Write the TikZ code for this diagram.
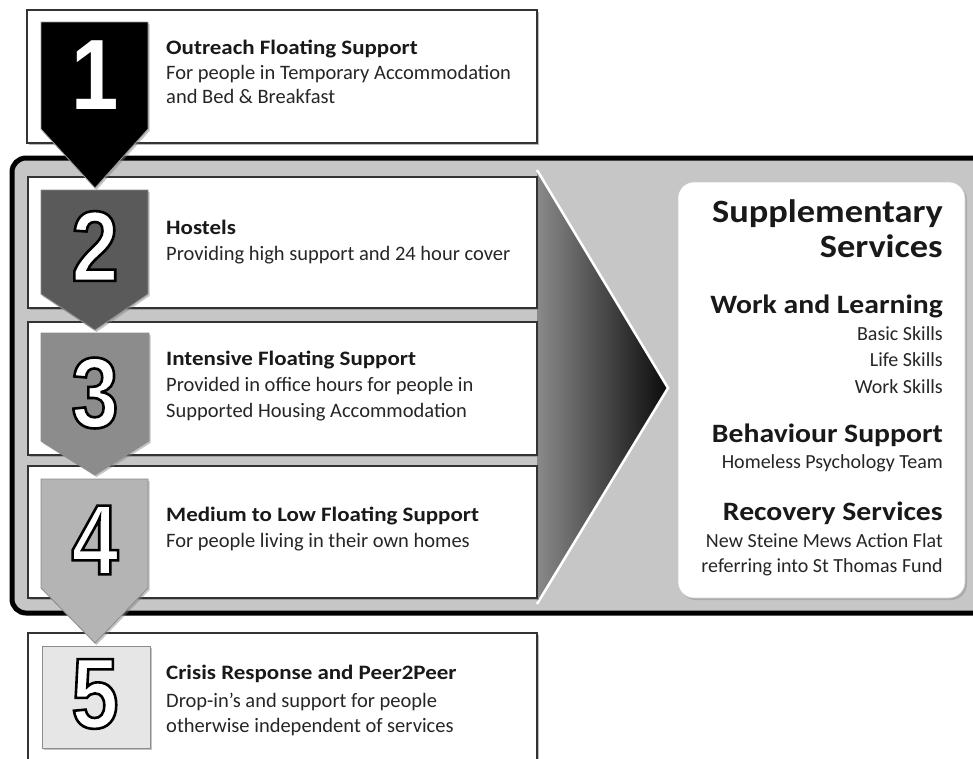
\documentclass[tikz,border=0pt]{standalone}
\usepackage{fontspec}
\setmainfont{Carlito}
\newfontfamily\headfont{Carlito}[FakeStretch=1.12]
\newfontfamily\digitfont{Liberation Sans}[FakeStretch=0.85]
\usetikzlibrary{shadows}
\definecolor{framegray}{HTML}{C6C6C6}
\definecolor{bordergray}{HTML}{333333}
\definecolor{badgetwo}{HTML}{5A5A5A}
\definecolor{badgethree}{HTML}{8C8C8C}
\definecolor{badgefour}{HTML}{B4B4B4}
\definecolor{badgefive}{HTML}{E6E6E6}
\definecolor{chevl}{HTML}{8A8A8A}
\definecolor{chevr}{HTML}{0A0A0A}
\newcommand{\olnum}[1]{\special{pdf:literal direct 2 Tr 2.6 w 0 G}#1\special{pdf:literal direct 0 Tr}}
\tikzset{
  sbox/.style={draw=bordergray, line width=1.3pt, fill=white, inner sep=0pt,
    drop shadow={shadow xshift=1.5pt, shadow yshift=-2pt, opacity=0.55}},
  btitle/.style={anchor=base west, inner sep=0pt, font=\headfont\fontsize{20.5}{24}\selectfont\bfseries, text=black!90},
  bbody/.style={anchor=base west, inner sep=0pt, align=left, font=\fontsize{20.5}{25}\selectfont, text=black!85},
  badge/.style={draw=black!45, line width=0.8pt,
    drop shadow={shadow xshift=1.5pt, shadow yshift=-2pt, opacity=0.45}},
  numtext/.style={inner sep=0pt, font=\digitfont\bfseries\fontsize{100}{100}\selectfont, text=white},
  shead/.style={anchor=base east, inner sep=0pt, align=right, font=\headfont\fontsize{26.5}{30}\selectfont\bfseries, text=black!90},
  sbody/.style={anchor=base east, inner sep=0pt, align=right, font=\fontsize{20}{26.5}\selectfont, text=black!85},
}
\begin{document}
\begin{tikzpicture}[x=1pt,y=-1pt]
\clip (0,0) rectangle (973,758);
\fill[white] (0,0) rectangle (973,758);
% big frame
\draw[line width=5pt, fill=framegray, rounded corners=14pt] (12,158) rectangle (1000,613);
% chevron
\shade[left color=chevl, right color=chevr] (537,170) -- (668,388) -- (537,604) -- cycle;
\draw[white, line width=2.5pt, line join=miter] (537,170) -- (668,388) -- (537,604);
% supplementary box
\node[draw=black!20, line width=0.6pt, fill=white, rounded corners=16pt, minimum width=287pt, minimum height=416pt, inner sep=0pt,
  drop shadow={shadow xshift=2pt, shadow yshift=-2pt, opacity=0.4}] (supp) at (821.5,390) {};
% level boxes
\node[sbox, minimum width=510pt, minimum height=133pt] (b1) at (282,76.5) {};
\node[sbox, minimum width=509pt, minimum height=131pt] (b2) at (282.5,242.5) {};
\node[sbox, minimum width=509pt, minimum height=133pt] (b3) at (282.5,388.5) {};
\node[sbox, minimum width=509pt, minimum height=132pt] (b4) at (282.5,532) {};
\node[sbox, minimum width=509pt, minimum height=147pt] (b5) at (282.5,706.5) {};
% badges
\path[badge, fill=black, draw=black!40] (41,22) -- (148,22) -- (148,129) -- (95,188) -- (41,129) -- cycle;
\path[badge, fill=badgetwo] (41,190) -- (148,190) -- (148,294) -- (95,330) -- (41,294) -- cycle;
\path[badge, fill=badgethree] (41,333) -- (149,333) -- (149,441) -- (95,475) -- (41,441) -- cycle;
\path[badge, fill=badgefour] (41,479) -- (148,479) -- (148,588) -- (95,643) -- (41,588) -- cycle;
\path[badge, fill=badgefive] (42,646) rectangle (150,748);
% digits
\node[numtext] (n1) at (95,75) {1};
\node[numtext] (n2) at (95,246) {\olnum{2}};
\node[numtext] (n3) at (95,393) {\olnum{3}};
\node[numtext] (n4) at (95,540) {\olnum{4}};
\node[numtext] (n5) at (95,694) {\olnum{5}};
% box texts (multi-line nodes are placed at the baseline of their last line)
\node[btitle] (t1) at (166,54) {Outreach Floating Support};
\node[bbody, font=\fontsize{20.5}{23.5}\selectfont] (d1) at (166,103) {For people in Temporary Accommodation\\and Bed \& Breakfast};
\node[btitle] (t2) at (166,234) {Hostels};
\node[bbody] (d2) at (166,260) {Providing high support and 24 hour cover};
\node[btitle] (t3) at (166,365) {Intensive Floating Support};
\node[bbody, font=\fontsize{20.5}{26}\selectfont] (d3) at (166,417) {Provided in office hours for people in\\Supported Housing Accommodation};
\node[btitle] (t4) at (166,521) {Medium to Low Floating Support};
\node[bbody] (d4) at (166,547) {For people living in their own homes};
\node[btitle] (t5) at (166,679) {Crisis Response and Peer2Peer};
\node[bbody] (d5) at (166,732) {Drop-in's and support for people\\otherwise independent of services};
% supplementary texts
\node[shead, font=\headfont\fontsize{32.5}{35}\selectfont\bfseries] (sh) at (943,257) {Supplementary\\Services};
\node[shead] (wl) at (943,313) {Work and Learning};
\node[sbody] (wld) at (943,393) {Basic Skills\\Life Skills\\Work Skills};
\node[shead] (bs) at (943,442) {Behaviour Support};
\node[sbody] (bsd) at (943,468) {Homeless Psychology Team};
\node[shead] (rs) at (943,520) {Recovery Services};
\node[sbody, font=\fontsize{20}{25}\selectfont] (rsd) at (943,572) {New Steine Mews Action Flat\\referring into St Thomas Fund};
\end{tikzpicture}
\end{document}
